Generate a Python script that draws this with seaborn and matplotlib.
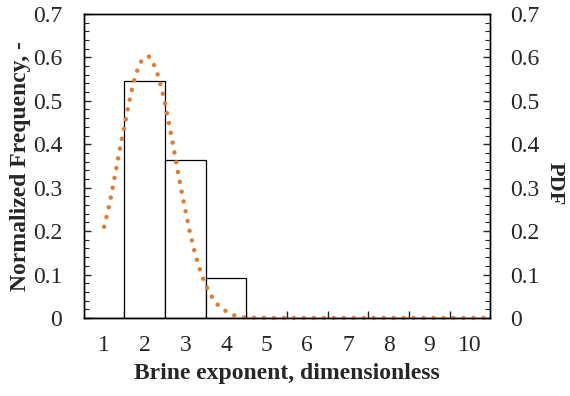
import matplotlib
matplotlib.use("Agg")
import matplotlib.pyplot as plt
from matplotlib.ticker import MultipleLocator, FixedLocator, NullFormatter
import seaborn as sns
import pandas as pd

# Histogram of brine exponents (normalized frequency per integer bin)
exponents = [1, 2, 3, 4, 5, 6, 7, 8, 9, 10]
norm_freq = [0.0, 0.545, 0.364, 0.091, 0.0, 0.0, 0.0, 0.0, 0.0, 0.0]

# Fitted probability density curve
pdf_x = [1.0, 1.1, 1.2, 1.3, 1.4, 1.5, 1.6, 1.7, 1.8, 1.9, 2.0, 2.1, 2.2, 2.3,
         2.4, 2.5, 2.6, 2.7, 2.8, 2.9, 3.0, 3.1, 3.2, 3.3, 3.4, 3.5, 3.6, 3.7,
         3.8, 3.9, 4.0, 4.1, 4.2, 4.3, 4.4, 4.5, 5.0, 6.0, 7.0, 8.0, 9.0, 10.0,
         10.5]
pdf_y = [0.210, 0.248, 0.294, 0.345, 0.396, 0.440, 0.490, 0.533, 0.566, 0.589,
         0.600, 0.602, 0.589, 0.566, 0.533, 0.494, 0.446, 0.396, 0.345, 0.294,
         0.248, 0.202, 0.162, 0.128, 0.099, 0.076, 0.057, 0.041, 0.030, 0.021,
         0.016, 0.010, 0.006, 0.004, 0.002, 0.001, 0.0, 0.0, 0.0, 0.0, 0.0, 0.0,
         0.0]

y_ticks = [0, 0.1, 0.2, 0.3, 0.4, 0.5, 0.6, 0.7]
y_tick_labels = ["0", "0.1", "0.2", "0.3", "0.4", "0.5", "0.6", "0.7"]

sns.set_style("ticks")
plt.rcParams["font.family"] = ["Liberation Serif", "DejaVu Serif"]
plt.rcParams["font.size"] = 17

hist_df = pd.DataFrame({"exponent": exponents, "freq": norm_freq})
pdf_df = pd.DataFrame({"x": pdf_x, "pdf": pdf_y})

fig = plt.figure(figsize=(5.7, 3.96), dpi=100)
ax = fig.add_axes([0.147, 0.197, 0.713, 0.768])

sns.barplot(data=hist_df, x="exponent", y="freq", native_scale=True, width=1,
            color="white", edgecolor="black", linewidth=0.9, saturation=1,
            ax=ax, zorder=2)

ax2 = ax.twinx()
sns.lineplot(data=pdf_df, x="x", y="pdf", ax=ax2, color="#E07D35",
             linewidth=3.25, linestyle=(0, (0.01, 2.2)), dash_capstyle="round",
             clip_on=False)

for a in (ax, ax2):
    a.set_xlim(0.5, 10.5)
    a.set_ylim(0, 0.7)
    a.set_yticks(y_ticks)
    a.set_yticklabels(y_tick_labels)
    a.yaxis.set_minor_locator(MultipleLocator(0.02))
    for s in a.spines.values():
        s.set_visible(True)
        s.set_linewidth(1.0)
        s.set_color("black")

ax.tick_params(axis="y", which="major", direction="in", length=5, width=1,
               pad=15.5, labelsize=17)
ax.tick_params(axis="y", which="minor", direction="in", length=3.5, width=0.8)
ax2.tick_params(axis="y", which="major", direction="in", length=5, width=1,
                pad=14, labelsize=17)
ax2.tick_params(axis="y", which="minor", direction="in", length=3.5, width=0.8)

# Category labels at integers, tick marks at bin boundaries
ax.set_xticks(exponents)
ax.set_xticklabels([str(e) for e in exponents])
ax.xaxis.set_minor_locator(FixedLocator([e + 0.5 for e in exponents[:-1]]))
ax.xaxis.set_minor_formatter(NullFormatter())
ax.tick_params(axis="x", which="major", length=0, pad=12, labelsize=17)
ax.tick_params(axis="x", which="minor", direction="in", length=5, width=1)

ax.set_xlabel("Brine exponent, dimensionless", fontweight="bold", fontsize=17)
ax.xaxis.set_label_coords(0.5, -0.148)
ax.set_ylabel("Normalized Frequency, -", fontweight="bold", fontsize=17)
ax.yaxis.set_label_coords(-0.130, 0.5)
ax2.set_ylabel("PDF", fontweight="bold", fontsize=16, rotation=270)
ax2.yaxis.label.set_verticalalignment("bottom")
ax2.yaxis.set_label_coords(1.135, 0.44)

fig.savefig("out.png", dpi=100)
